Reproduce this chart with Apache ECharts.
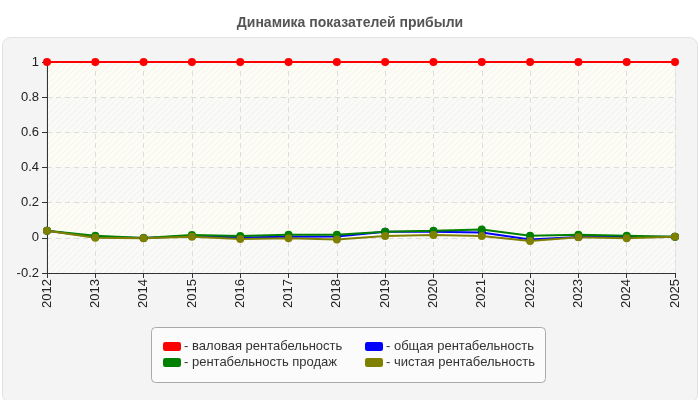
<!DOCTYPE html>
<html>
<head>
<meta charset="utf-8">
<script src="https://cdn.jsdelivr.net/npm/echarts@6/dist/echarts.min.js"></script>
<style>
  html, body { margin: 0; padding: 0; background: #fff; }
  #chart-container { width: 700px; height: 400px; }
</style>
</head>
<body>
<div id="chart-container"></div>
<script>
var years = ['2012', '2013', '2014', '2015', '2016', '2017', '2018', '2019', '2020', '2021', '2022', '2023', '2024', '2025'];
var grossMargin = [1, 1, 1, 1, 1, 1, 1, 1, 1, 1, 1, 1, 1, 1];
var totalMargin = [0.04, 0.005, -0.001, 0.01, 0.002, 0.006, 0.007, 0.035, 0.035, 0.03, -0.009, 0.005, 0.005, 0.006];
var salesMargin = [0.04, 0.012, -0.001, 0.016, 0.01, 0.018, 0.018, 0.035, 0.04, 0.048, 0.012, 0.018, 0.012, 0.006];
var netMargin = [0.04, 0, -0.002, 0.006, -0.007, -0.002, -0.009, 0.01, 0.016, 0.01, -0.018, 0.003, -0.003, 0.006];
var seriesNames = ['валовая рентабельность', 'общая рентабельность', 'рентабельность продаж', 'чистая рентабельность'];
var yTicks = { min: -0.2, max: 1, step: 0.2 };

function hatch(bg, fg) {
  var c = document.createElement('canvas');
  c.width = 6; c.height = 6;
  var ctx = c.getContext('2d');
  ctx.fillStyle = bg;
  ctx.fillRect(0, 0, 6, 6);
  ctx.strokeStyle = fg;
  ctx.lineWidth = 1;
  ctx.beginPath();
  ctx.moveTo(0, 6); ctx.lineTo(6, 0);
  ctx.moveTo(-1, 1); ctx.lineTo(1, -1);
  ctx.moveTo(5, 7); ctx.lineTo(7, 5);
  ctx.stroke();
  return { image: c, repeat: 'repeat' };
}

var dom = document.getElementById('chart-container');
var myChart = echarts.init(dom, null, { renderer: 'canvas' });

var font = '"Liberation Sans", Arial, sans-serif';

function makeSeries(name, data, color) {
  return {
    name: name,
    type: 'line',
    data: data,
    symbol: 'circle',
    symbolSize: 8,
    color: color,
    lineStyle: { width: 2, color: color },
    itemStyle: { color: color },
    animation: false
  };
}

var legendBase = {
  orient: 'vertical',
  top: 335,
  itemWidth: 18, itemHeight: 9, itemGap: 3,
  icon: 'roundRect',
  formatter: '- {name}',
  textStyle: { fontSize: 13, color: '#333', padding: [0, 0, 0, -2] }
};

var option = {
  textStyle: { fontFamily: font },
  title: {
    text: 'Динамика показателей прибыли',
    left: 'center',
    top: 11,
    textStyle: { fontSize: 14, fontWeight: 'bold', color: '#555', fontFamily: font }
  },
  graphic: [
    {
      type: 'rect', z: -10, silent: true,
      shape: { x: 2.5, y: 37.5, width: 695, height: 365, r: 8 },
      style: { fill: '#f4f4f4', stroke: '#e2e2e2', lineWidth: 1 }
    },
    {
      type: 'rect', z: -5, silent: true,
      shape: { x: 151.5, y: 327.5, width: 394, height: 55, r: 4 },
      style: { fill: '#fbfbfb', stroke: '#aaaaaa', lineWidth: 1 }
    }
  ],
  legend: [
    Object.assign({}, legendBase, { data: [seriesNames[0], seriesNames[2]], left: 158 }),
    Object.assign({}, legendBase, { data: [seriesNames[1], seriesNames[3]], left: 360 })
  ],
  grid: {
    left: 47, right: 25, top: 62, bottom: 127,
    show: true, borderColor: '#dddddd', borderWidth: 1, backgroundColor: 'transparent'
  },
  xAxis: {
    type: 'category',
    data: years,
    boundaryGap: false,
    axisLine: { onZero: false, lineStyle: { color: '#333', width: 1 } },
    axisTick: { show: true, length: 5, lineStyle: { color: '#333' } },
    axisLabel: { rotate: 90, fontSize: 13, color: '#222', margin: 6, interval: 0 },
    splitLine: { show: true, lineStyle: { color: '#dddddd', type: [5, 4] } }
  },
  yAxis: {
    type: 'value',
    min: yTicks.min, max: yTicks.max, interval: yTicks.step,
    axisLine: { show: true, lineStyle: { color: '#333', width: 1 } },
    axisTick: { show: true, length: 5, lineStyle: { color: '#333' } },
    axisLabel: { fontSize: 13, color: '#222', margin: 8 },
    splitLine: { show: true, lineStyle: { color: '#dddddd', type: [5, 4] } },
    splitArea: {
      show: true,
      areaStyle: { color: [hatch('#fafaf8', '#efefec'), hatch('#fdfdf6', '#f3f3eb')] }
    }
  },
  series: [
    makeSeries(seriesNames[0], grossMargin, '#ff0000'),
    makeSeries(seriesNames[1], totalMargin, '#0000ff'),
    makeSeries(seriesNames[2], salesMargin, '#008000'),
    makeSeries(seriesNames[3], netMargin, '#808000')
  ]
};

myChart.setOption(option);
window.addEventListener('resize', myChart.resize);
</script>
</body>
</html>
